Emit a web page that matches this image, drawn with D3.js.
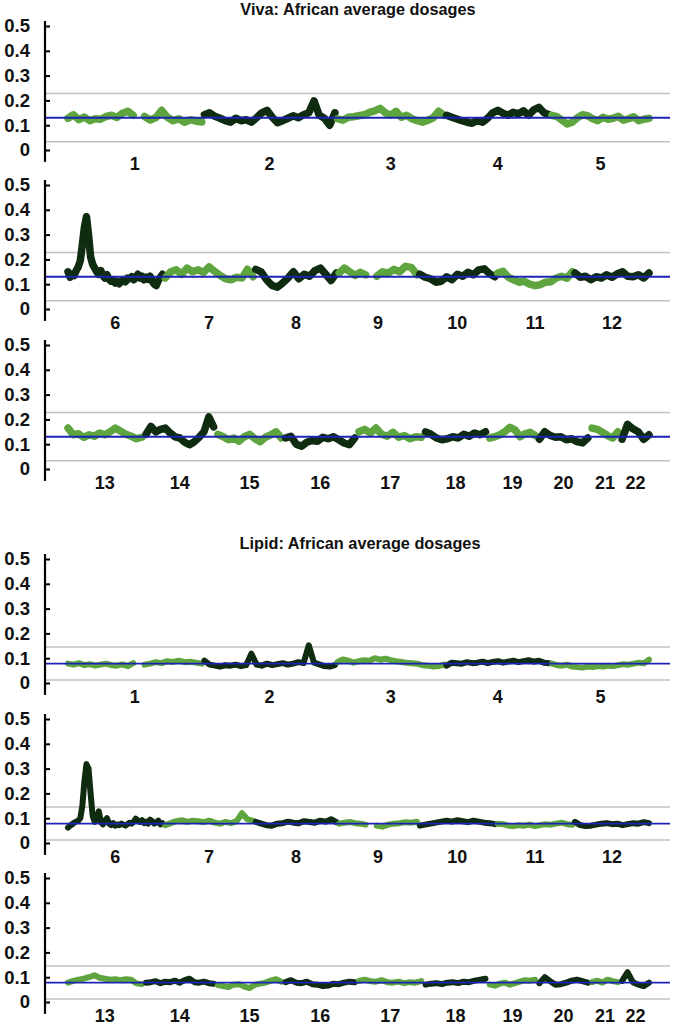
<!DOCTYPE html>
<html>
<head>
<meta charset="utf-8">
<script src="https://cdn.jsdelivr.net/npm/d3@7"></script>
<style>
  body { margin: 0; background: #fff; }
  text { font-family: "Liberation Sans", Arial, Helvetica, sans-serif; font-weight: bold; fill: #111; }
</style>
</head>
<body>
<div id="chart"></div>
<script>
// Chart data
// ================================
// segments per row: [chromosome, start (Mb), end (Mb)]
var row1Segments = [[1, 0, 121.5], [1, 142.5, 249], [2, 0, 243], [3, 0, 198], [4, 0, 191], [5, 0, 181]];
var row2Segments = [[6, 0, 171], [7, 0, 159], [8, 0, 146], [9, 0, 48], [9, 68, 141], [10, 0, 136], [11, 0, 135], [12, 0, 134]];
var row3Segments = [[13, 19, 115], [14, 19, 107], [15, 20, 102.5], [16, 0, 90], [17, 0, 81], [18, 0, 78], [19, 0, 59], [20, 0, 63], [21, 14.5, 48], [22, 16, 51]];

var yTicks = [0, 0.1, 0.2, 0.3, 0.4, 0.5];

// mean (blue) and band limits (grey)
var vivaMean = 0.130;
var vivaLimits = [0.033, 0.228];
var lipidMean = 0.078;
var lipidLimits = [0.012, 0.145];

// average dosages, one array per segment, evenly spaced along the segment
var vivaRow1 = [
  [0.128, 0.142, 0.122, 0.133, 0.118, 0.126, 0.124, 0.135, 0.140, 0.131, 0.148, 0.156, 0.140],
  [0.135, 0.121, 0.131, 0.160, 0.132, 0.118, 0.126, 0.112, 0.122, 0.116, 0.113],
  [0.142, 0.150, 0.136, 0.128, 0.118, 0.112, 0.128, 0.118, 0.122, 0.112, 0.130, 0.150, 0.160, 0.132, 0.110, 0.118, 0.128, 0.138, 0.130, 0.142, 0.150, 0.198, 0.140, 0.128, 0.100, 0.150],
  [0.126, 0.120, 0.132, 0.134, 0.138, 0.142, 0.152, 0.158, 0.168, 0.150, 0.140, 0.156, 0.132, 0.140, 0.126, 0.118, 0.112, 0.120, 0.130, 0.156, 0.140],
  [0.140, 0.132, 0.125, 0.118, 0.112, 0.108, 0.118, 0.112, 0.128, 0.150, 0.160, 0.148, 0.140, 0.152, 0.146, 0.158, 0.140, 0.162, 0.172, 0.150, 0.142],
  [0.140, 0.135, 0.120, 0.105, 0.112, 0.130, 0.142, 0.138, 0.126, 0.118, 0.132, 0.124, 0.128, 0.136, 0.120, 0.126, 0.134, 0.118, 0.124, 0.128]
];
var vivaRow2 = [
  [0.150, 0.128, 0.140, 0.135, 0.155, 0.170, 0.195, 0.260, 0.330, 0.372, 0.300, 0.210, 0.180, 0.165, 0.150, 0.140, 0.155, 0.135, 0.125, 0.138, 0.120, 0.112, 0.118, 0.105, 0.110, 0.102, 0.112, 0.118, 0.110, 0.125, 0.122, 0.130, 0.118, 0.128, 0.140, 0.125, 0.132, 0.118, 0.128, 0.120, 0.132, 0.112, 0.100, 0.095, 0.115, 0.128, 0.140],
  [0.125, 0.150, 0.158, 0.140, 0.165, 0.150, 0.158, 0.148, 0.170, 0.152, 0.135, 0.122, 0.118, 0.128, 0.125, 0.160, 0.130],
  [0.160, 0.150, 0.118, 0.095, 0.088, 0.105, 0.125, 0.150, 0.122, 0.140, 0.132, 0.155, 0.165, 0.140, 0.115, 0.145],
  [0.145, 0.165, 0.150, 0.135, 0.148, 0.138],
  [0.132, 0.150, 0.145, 0.160, 0.150, 0.172, 0.168, 0.138],
  [0.140, 0.128, 0.122, 0.108, 0.112, 0.130, 0.118, 0.140, 0.132, 0.148, 0.138, 0.158, 0.162, 0.142, 0.130],
  [0.145, 0.152, 0.128, 0.118, 0.108, 0.112, 0.100, 0.094, 0.098, 0.108, 0.110, 0.125, 0.132, 0.124, 0.150],
  [0.145, 0.128, 0.132, 0.118, 0.130, 0.125, 0.138, 0.128, 0.142, 0.150, 0.132, 0.130, 0.138, 0.125, 0.145]
];
var vivaRow3 = [
  [0.165, 0.138, 0.142, 0.128, 0.138, 0.132, 0.145, 0.138, 0.150, 0.165, 0.152, 0.140, 0.132, 0.122, 0.128],
  [0.140, 0.172, 0.150, 0.160, 0.165, 0.145, 0.130, 0.125, 0.108, 0.098, 0.110, 0.128, 0.150, 0.210, 0.170],
  [0.140, 0.130, 0.118, 0.125, 0.112, 0.130, 0.140, 0.122, 0.110, 0.128, 0.138, 0.150, 0.125],
  [0.125, 0.132, 0.100, 0.092, 0.108, 0.115, 0.112, 0.128, 0.122, 0.130, 0.118, 0.105, 0.098, 0.125],
  [0.150, 0.160, 0.145, 0.165, 0.140, 0.132, 0.148, 0.128, 0.135, 0.122, 0.130, 0.128],
  [0.150, 0.140, 0.125, 0.118, 0.122, 0.130, 0.125, 0.140, 0.132, 0.145, 0.138, 0.150],
  [0.125, 0.130, 0.138, 0.150, 0.168, 0.158, 0.130, 0.142, 0.148, 0.135],
  [0.120, 0.150, 0.135, 0.128, 0.130, 0.118, 0.122, 0.110, 0.105, 0.125],
  [0.165, 0.160, 0.148, 0.135, 0.125, 0.150],
  [0.120, 0.180, 0.162, 0.150, 0.120, 0.138]
];

var lipidRow1 = [
  [0.078, 0.074, 0.080, 0.072, 0.076, 0.070, 0.074, 0.078, 0.072, 0.070, 0.075, 0.068, 0.080],
  [0.074, 0.078, 0.084, 0.080, 0.088, 0.085, 0.090, 0.084, 0.086, 0.082, 0.078],
  [0.090, 0.074, 0.070, 0.066, 0.072, 0.070, 0.074, 0.068, 0.072, 0.118, 0.074, 0.070, 0.078, 0.072, 0.076, 0.080, 0.074, 0.078, 0.084, 0.080, 0.152, 0.082, 0.075, 0.068, 0.066, 0.072],
  [0.085, 0.095, 0.090, 0.082, 0.088, 0.092, 0.090, 0.100, 0.094, 0.098, 0.092, 0.088, 0.085, 0.082, 0.080, 0.078, 0.072, 0.070, 0.066, 0.068, 0.074],
  [0.070, 0.082, 0.080, 0.078, 0.084, 0.080, 0.082, 0.086, 0.080, 0.085, 0.088, 0.082, 0.086, 0.090, 0.084, 0.088, 0.092, 0.086, 0.090, 0.082, 0.080],
  [0.078, 0.072, 0.070, 0.074, 0.066, 0.064, 0.062, 0.066, 0.064, 0.068, 0.066, 0.070, 0.068, 0.072, 0.076, 0.074, 0.078, 0.082, 0.080, 0.094]
];
var lipidRow2 = [
  [0.062, 0.070, 0.075, 0.082, 0.086, 0.090, 0.100, 0.150, 0.250, 0.318, 0.300, 0.200, 0.110, 0.085, 0.100, 0.128, 0.085, 0.075, 0.090, 0.100, 0.078, 0.072, 0.080, 0.070, 0.075, 0.072, 0.078, 0.074, 0.070, 0.076, 0.082, 0.078, 0.086, 0.098, 0.090, 0.085, 0.092, 0.080, 0.086, 0.078, 0.094, 0.088, 0.078, 0.082, 0.090, 0.075, 0.080],
  [0.072, 0.080, 0.088, 0.092, 0.085, 0.090, 0.088, 0.084, 0.090, 0.082, 0.078, 0.085, 0.080, 0.088, 0.120, 0.095, 0.090],
  [0.085, 0.078, 0.072, 0.070, 0.078, 0.080, 0.086, 0.082, 0.080, 0.088, 0.085, 0.082, 0.090, 0.086, 0.096, 0.084],
  [0.078, 0.082, 0.085, 0.080, 0.078, 0.074],
  [0.070, 0.066, 0.074, 0.078, 0.080, 0.084, 0.082, 0.086],
  [0.070, 0.074, 0.078, 0.082, 0.086, 0.090, 0.086, 0.092, 0.088, 0.084, 0.090, 0.086, 0.082, 0.080, 0.076],
  [0.078, 0.076, 0.070, 0.068, 0.072, 0.070, 0.074, 0.068, 0.072, 0.076, 0.074, 0.078, 0.082, 0.076, 0.074],
  [0.085, 0.072, 0.068, 0.070, 0.074, 0.078, 0.080, 0.076, 0.078, 0.072, 0.076, 0.080, 0.078, 0.084, 0.080]
];
var lipidRow3 = [
  [0.078, 0.085, 0.090, 0.094, 0.100, 0.108, 0.098, 0.094, 0.090, 0.092, 0.088, 0.092, 0.090, 0.075, 0.072],
  [0.078, 0.080, 0.084, 0.076, 0.082, 0.080, 0.086, 0.078, 0.088, 0.094, 0.080, 0.078, 0.082, 0.076, 0.074],
  [0.068, 0.064, 0.060, 0.070, 0.072, 0.062, 0.056, 0.070, 0.074, 0.078, 0.086, 0.092, 0.082],
  [0.080, 0.088, 0.078, 0.076, 0.082, 0.072, 0.070, 0.064, 0.066, 0.074, 0.072, 0.078, 0.082, 0.080],
  [0.085, 0.090, 0.084, 0.082, 0.088, 0.080, 0.078, 0.082, 0.076, 0.080, 0.078, 0.084],
  [0.070, 0.074, 0.076, 0.072, 0.078, 0.080, 0.076, 0.082, 0.080, 0.086, 0.090, 0.094],
  [0.070, 0.066, 0.074, 0.078, 0.070, 0.076, 0.082, 0.088, 0.086, 0.090],
  [0.076, 0.100, 0.084, 0.070, 0.072, 0.078, 0.086, 0.090, 0.084, 0.078],
  [0.080, 0.086, 0.078, 0.090, 0.084, 0.080],
  [0.085, 0.120, 0.080, 0.070, 0.064, 0.078]
];

// Set up our chart
// ================================
var svgWidth = 674;
var svgHeight = 1026;
var axisX = 45;
var plotLeft = 68;
var plotRight = 649;
var lineEnd = 670;
var panelHeight = 124;

var oddColor = "#5ea540";
var evenColor = "#0f2b10";

var svg = d3
  .select("#chart")
  .append("svg")
  .attr("width", svgWidth)
  .attr("height", svgHeight);

var panels = [
  { segments: row1Segments, values: vivaRow1, mean: vivaMean, limits: vivaLimits, zero: 150, gap: 5, width: 7.5 },
  { segments: row2Segments, values: vivaRow2, mean: vivaMean, limits: vivaLimits, zero: 309, gap: 5, width: 7.5 },
  { segments: row3Segments, values: vivaRow3, mean: vivaMean, limits: vivaLimits, zero: 469, gap: 5.6, width: 7.5 },
  { segments: row1Segments, values: lipidRow1, mean: lipidMean, limits: lipidLimits, zero: 683, gap: 5, width: 6 },
  { segments: row2Segments, values: lipidRow2, mean: lipidMean, limits: lipidLimits, zero: 843, gap: 5, width: 6 },
  { segments: row3Segments, values: lipidRow3, mean: lipidMean, limits: lipidLimits, zero: 1002, gap: 5.6, width: 6 },
];

// titles
svg.append("text")
  .attr("x", 358)
  .attr("y", 15)
  .attr("text-anchor", "middle")
  .style("font-size", "16.3px")
  .text("Viva: African average dosages");

svg.append("text")
  .attr("x", 360)
  .attr("y", 549)
  .attr("text-anchor", "middle")
  .style("font-size", "16.3px")
  .text("Lipid: African average dosages");

// lay the chromosomes of one row side by side
function rowLayout(segments, gap) {
  var chroms = [];
  segments.forEach(function (s) {
    var c = chroms.find((d) => d.chr === s[0]);
    if (!c) {
      chroms.push({ chr: s[0], start: s[1], end: s[2] });
    } else {
      c.start = Math.min(c.start, s[1]);
      c.end = Math.max(c.end, s[2]);
    }
  });
  var offset = 0;
  chroms.forEach(function (c) {
    c.offset = offset - c.start;
    offset += c.end - c.start + gap;
  });
  return { chroms: chroms, total: offset - gap };
}

panels.forEach(function (p) {
  var g = svg.append("g");

  var yScale = d3.scaleLinear().domain([0, 0.5]).range([p.zero, p.zero - panelHeight]);
  var layout = rowLayout(p.segments, p.gap);
  var xScale = d3.scaleLinear().domain([0, layout.total]).range([plotLeft, plotRight]);

  // grey limits
  g.selectAll(".limit")
    .data(p.limits)
    .enter()
    .append("line")
    .attr("x1", axisX + 1)
    .attr("x2", lineEnd)
    .attr("y1", (d) => yScale(d))
    .attr("y2", (d) => yScale(d))
    .attr("stroke", "#c2c2c2")
    .attr("stroke-width", 1.6);

  // dosage traces
  var line = d3.line()
    .x((d) => xScale(d.pos))
    .y((d) => yScale(d.v));

  p.segments.forEach(function (s, i) {
    var c = layout.chroms.find((d) => d.chr === s[0]);
    var vals = p.values[i];
    var pts = vals.map(function (v, j) {
      return { pos: c.offset + s[1] + (j * (s[2] - s[1])) / (vals.length - 1), v: v };
    });
    g.append("path")
      .datum(pts)
      .attr("d", line)
      .attr("fill", "none")
      .attr("stroke", s[0] % 2 === 1 ? oddColor : evenColor)
      .attr("stroke-width", p.width)
      .attr("stroke-linejoin", "round")
      .attr("stroke-linecap", "round");
  });

  // mean line
  g.append("line")
    .attr("x1", axisX + 1)
    .attr("x2", lineEnd)
    .attr("y1", yScale(p.mean))
    .attr("y2", yScale(p.mean))
    .attr("stroke", "#1c24b4")
    .attr("stroke-width", 1.8);

  // y axis
  var leftAxis = d3.axisLeft(yScale)
    .tickValues(yTicks)
    .tickSizeInner(-5)
    .tickSizeOuter(0)
    .tickPadding(15)
    .tickFormat((d) => (d === 0 ? "0" : d3.format(".1f")(d)));

  var yAxis = g.append("g")
    .attr("transform", `translate(${axisX}, 0)`)
    .call(leftAxis);
  yAxis.select(".domain").remove();
  yAxis.selectAll("line").attr("stroke", "#000").attr("stroke-width", 2);
  yAxis.selectAll("text")
    .style("font-size", "18.5px")
    .style("font-family", "'Liberation Sans', Arial, sans-serif")
    .style("font-weight", "bold")
    .attr("fill", "#111");

  g.append("line")
    .attr("x1", axisX)
    .attr("x2", axisX)
    .attr("y1", yScale(0.52))
    .attr("y2", yScale(-0.048))
    .attr("stroke", "#000")
    .attr("stroke-width", 2.2);

  // chromosome labels
  g.selectAll(".chr-label")
    .data(layout.chroms)
    .enter()
    .append("text")
    .attr("x", (d) => xScale(d.offset + (d.start + d.end) / 2))
    .attr("y", p.zero + 20)
    .attr("text-anchor", "middle")
    .style("font-size", "18px")
    .text((d) => d.chr);
});
</script>
</body>
</html>
